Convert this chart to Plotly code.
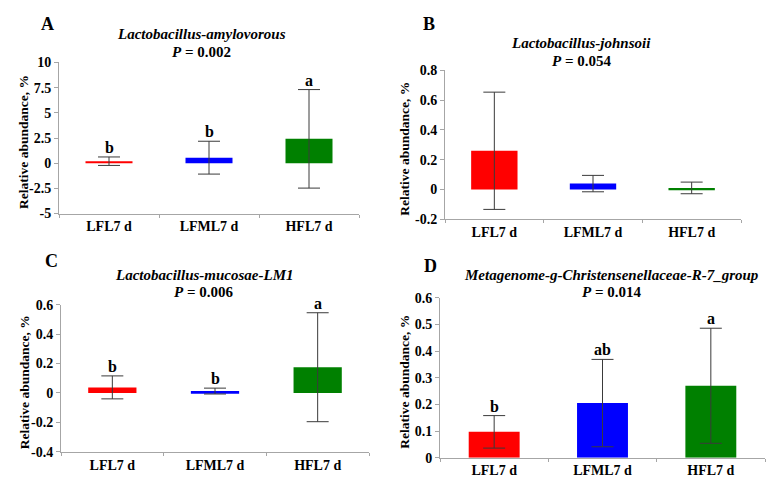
import plotly.graph_objects as go

W, H = 777, 479

categories = ["LFL7 d", "LFML7 d", "HFL7 d"]
colors = ["#FF0000", "#0000FF", "#008000"]

# Panel A: Lactobacillus-amylovorous
a_mean = [0.2, 0.55, 2.42]
a_err = [0.42, 1.63, 4.89]
a_letters = ["b", "b", "a"]

# Panel B: Lactobacillus-johnsoii
b_mean = [0.26, 0.04, 0.011]
b_err = [0.393, 0.055, 0.039]
b_letters = ["", "", ""]

# Panel C: Lactobacillus-mucosae-LM1
c_mean = [0.038, 0.013, 0.175]
c_err = [0.078, 0.02, 0.37]
c_letters = ["b", "b", "a"]

# Panel D: Metagenome-g-Christensenellaceae-R-7_group
d_mean = [0.097, 0.205, 0.27]
d_err = [0.061, 0.164, 0.216]
d_letters = ["b", "ab", "a"]

panels = [
    dict(key="A", mean=a_mean, err=a_err, letters=a_letters,
         title="Lactobacillus-amylovorous", p="0.002",
         yrange=[-5, 10], ticktext=["-5", "-2.5", "0", "2.5", "5", "7.5", "10"],
         tickvals=[-5, -2.5, 0, 2.5, 5, 7.5, 10],
         px=(51, 351), py=(49, 205), tx=193, ty=20, ylab_x=16, lx=39, ly=9),
    dict(key="B", mean=b_mean, err=b_err, letters=b_letters,
         title="Lactobacillus-johnsoii", p="0.054",
         yrange=[-0.2, 0.8], tickvals=[-0.2, 0, 0.2, 0.4, 0.6, 0.8],
         ticktext=["-0.2", "0", "0.2", "0.4", "0.6", "0.8"],
         px=(437, 733), py=(57, 211), tx=573, ty=29, ylab_x=397, lx=421, ly=9),
    dict(key="C", mean=c_mean, err=c_err, letters=c_letters,
         title="Lactobacillus-mucosae-LM1", p="0.006",
         yrange=[-0.4, 0.6], tickvals=[-0.4, -0.2, 0, 0.2, 0.4, 0.6],
         ticktext=["-0.4", "-0.2", "0", "0.2", "0.4", "0.6"],
         px=(53, 361), py=(299, 451), tx=196, ty=268, ylab_x=16, lx=43, ly=254),
    dict(key="D", mean=d_mean, err=d_err, letters=d_letters,
         title="Metagenome-g-Christensenellaceae-R-7_group", p="0.014",
         yrange=[0, 0.6], tickvals=[0, 0.1, 0.2, 0.3, 0.4, 0.5, 0.6],
         ticktext=["0", "0.1", "0.2", "0.3", "0.4", "0.5", "0.6"],
         px=(432, 757), py=(292, 457), tx=603, ty=268, ylab_x=397, lx=422, ly=259),
]

FONT = "Liberation Serif, Times New Roman, serif"
fig = go.Figure()
annotations = []
layout = dict(
    width=W, height=H, margin=dict(l=0, r=0, t=0, b=0),
    paper_bgcolor="white", plot_bgcolor="white", showlegend=False,
    font=dict(family=FONT, color="black"), bargap=0.53,
)

for i, p in enumerate(panels):
    n = "" if i == 0 else str(i + 1)
    xa, ya = "x" + n, "y" + n
    fig.add_trace(go.Bar(
        x=categories, y=p["mean"], marker=dict(color=colors, line=dict(width=0)),
        error_y=dict(type="data", array=p["err"], visible=True, color="#3a3a3a",
                     thickness=1, width=11),
        xaxis=xa, yaxis=ya, hoverinfo="skip",
    ))
    x0, x1 = p["px"]
    y0, y1 = p["py"]
    layout["xaxis" + n] = dict(
        domain=[x0 / W, x1 / W], anchor=ya, type="category",
        showline=True, linecolor="#a6a6a6", linewidth=1,
        ticks="outside", tickson="boundaries", ticklen=3, tickcolor="#a6a6a6",
        showgrid=False, zeroline=False,
        tickfont=dict(family=FONT, size=14, color="black", weight="bold"),
    )
    layout["yaxis" + n] = dict(
        domain=[1 - y1 / H, 1 - y0 / H], anchor=xa, range=p["yrange"],
        tickvals=p["tickvals"], ticktext=["<b>%s</b>" % t for t in p["ticktext"]],
        showline=True, linecolor="#a6a6a6", linewidth=1,
        ticks="outside", ticklen=4, tickcolor="#a6a6a6",
        showgrid=False, zeroline=False,
        tickfont=dict(family=FONT, size=14, color="black"),
    )
    # titles
    annotations.append(dict(xref="paper", yref="paper", x=p["tx"] / W, y=1 - p["ty"] / H,
                            text="<b><i>%s</i></b>" % p["title"], showarrow=False,
                            xanchor="center", yanchor="middle",
                            font=dict(family=FONT, size=15, color="black")))
    annotations.append(dict(xref="paper", yref="paper", x=p["tx"] / W, y=1 - (p["ty"] + 18) / H,
                            text="<b><i>P</i> = %s</b>" % p["p"], showarrow=False,
                            xanchor="center", yanchor="middle",
                            font=dict(family=FONT, size=15, color="black")))
    # panel letter
    annotations.append(dict(xref="paper", yref="paper", x=p["lx"] / W, y=1 - p["ly"] / H,
                            text="<b>%s</b>" % p["key"], showarrow=False,
                            xanchor="center", yanchor="middle",
                            font=dict(family=FONT, size=18, color="black")))
    # y axis label
    annotations.append(dict(xref="paper", yref="paper", x=p["ylab_x"] / W,
                            y=1 - ((y0 + y1) / 2 + 4) / H,
                            text="<b>Relative abundance, %</b>", showarrow=False,
                            textangle=-90, xanchor="center", yanchor="middle",
                            font=dict(family=FONT, size=13.5, color="black")))
    # significance letters
    for c, m, e, L in zip(categories, p["mean"], p["err"], p["letters"]):
        if L:
            annotations.append(dict(xref=xa, yref=ya, x=c, y=m + e, text="<b>%s</b>" % L,
                                    showarrow=False, xanchor="center", yanchor="bottom",
                                    yshift=-1,
                                    font=dict(family=FONT, size=16, color="black")))

layout["annotations"] = annotations
fig.update_layout(**layout)
fig.write_html("out.html")
